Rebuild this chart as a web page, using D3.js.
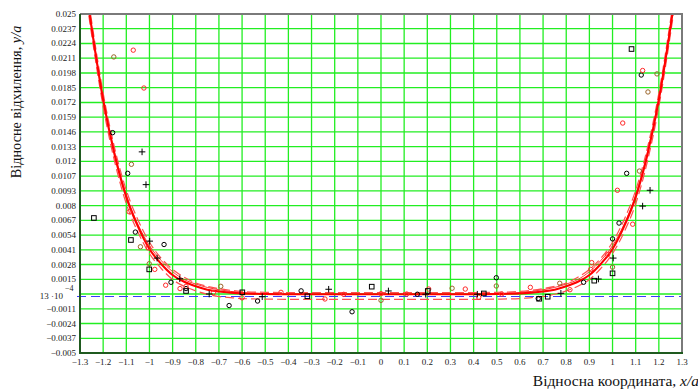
<!DOCTYPE html>
<html><head><meta charset="utf-8">
<script src="https://cdn.jsdelivr.net/npm/d3@7"></script>
<style>
html,body{margin:0;padding:0;background:#fff;}
svg{display:block;}
text{font-family:'Liberation Serif','DejaVu Serif','Times New Roman',serif;}
</style></head>
<body><svg id="c" width="698" height="389"></svg>
<script>
// ---- data ----
const xTickValues = [-1.3,-1.2,-1.1,-1,-0.9,-0.8,-0.7,-0.6,-0.5,-0.4,-0.3,-0.2,-0.1,0,0.1,0.2,0.3,0.4,0.5,0.6,0.7,0.8,0.9,1,1.1,1.2,1.3];
const xTickLabels = ["−1.3","−1.2","−1.1","−1","−0.9","−0.8","−0.7","−0.6","−0.5","−0.4","−0.3","−0.2","−0.1","0","0.1","0.2","0.3","0.4","0.5","0.6","0.7","0.8","0.9","1","1.1","1.2","1.3"];
const yTickValues = [-0.005,-0.0037,-0.00239,-0.00109,0.00022,0.00152,0.00283,0.00413,0.00543,0.00674,0.00804,0.00935,0.01065,0.01196,0.01326,0.01457,0.01587,0.01717,0.01848,0.01978,0.02109,0.02239,0.0237,0.025];
const yTickLabels = ["−0.005","−0.0037","−0.0024","−0.0011","","0.0015","0.0028","0.0041","0.0054","0.0067","0.008","0.0093","0.0107","0.012","0.0133","0.0146","0.0159","0.0172","0.0185","0.0198","0.0211","0.0224","0.0237","0.025"];
const markerValue = 0;

const curveX      = [-1.27,-1.25,-1.2,-1.15,-1.1,-1.05,-1.0,-0.95,-0.9,-0.85,-0.8,-0.75,-0.7,-0.65,-0.6,-0.5,-0.4,-0.2,0,0.2,0.4,0.5,0.6,0.65,0.7,0.75,0.8,0.85,0.9,0.95,1.0,1.05,1.1,1.15,1.2,1.25,1.27];
const fitMain     = [0.0266,0.0238,0.0174,0.0125,0.0088,0.0062,0.0042,0.0029,0.0019,0.0013,0.0009,0.0006,0.00044,0.00034,0.00027,0.00022,0.0002,0.0002,0.0002,0.0002,0.0002,0.00022,0.00027,0.00034,0.00044,0.0006,0.0009,0.0013,0.0019,0.0029,0.0042,0.0062,0.0088,0.0125,0.0174,0.0238,0.0266];
const fitAlt      = [0.0268,0.0240,0.0176,0.0127,0.0090,0.0064,0.0045,0.0032,0.0022,0.0015,0.0011,0.0008,0.0006,0.00045,0.00035,0.00026,0.00022,0.0002,0.0002,0.0002,0.00022,0.00026,0.00035,0.00045,0.0006,0.0008,0.0011,0.0015,0.0022,0.0032,0.0045,0.0064,0.0090,0.0127,0.0176,0.0240,0.0268];
const bandUpper   = [0.0272,0.0244,0.0180,0.0131,0.0094,0.0068,0.0048,0.0034,0.0024,0.0017,0.0012,0.0009,0.0007,0.00055,0.00045,0.00037,0.00035,0.00035,0.00035,0.00035,0.00035,0.00037,0.00045,0.00055,0.0007,0.0009,0.0012,0.0017,0.0024,0.0034,0.0048,0.0068,0.0094,0.0131,0.0180,0.0244,0.0272];
const bandLower   = [0.0260,0.0232,0.0168,0.0119,0.0082,0.0057,0.0038,0.0025,0.0015,0.0009,0.0005,0.0002,0.0,-0.0001,-0.00018,-0.00023,-0.00025,-0.00025,-0.00025,-0.00025,-0.00025,-0.00023,-0.00018,-0.0001,0.0,0.0002,0.0005,0.0009,0.0015,0.0025,0.0038,0.0057,0.0082,0.0119,0.0168,0.0232,0.0260];

const blackCircles = [[-1.159,0.0145],[-1.094,0.0109],[-1.061,0.0057],[-0.937,0.0046],[-0.907,0.00126],[-0.842,0.0007],[-0.656,-0.0008],[-0.533,-0.0004],[-0.345,0.0005],[-0.125,-0.00135],[0.157,0.0002],[0.498,0.00166],[0.679,-0.00018],[0.875,0.00126],[1.0,0.0051],[1.028,0.0065],[1.061,0.0109],[1.124,0.0196]];
const brownCircles = [[-1.154,0.0212],[-1.078,0.0117],[-1.039,0.0044],[-1.001,0.0029],[-0.692,0.0009],[0.0,-0.00034],[0.307,0.00073],[0.498,0.00093],[0.772,0.00117],[1.0,0.0026],[1.116,0.0111],[1.153,0.0181],[1.192,0.0197]];
const redCircles = [[-1.070,0.0218],[-1.024,0.01845],[-1.088,0.0075],[-1.005,0.0043],[-0.977,0.0024],[-0.930,0.0010],[-0.868,0.0007],[-0.842,0.0009],[-0.724,0.00034],[-0.600,-0.00012],[-0.432,0.00037],[-0.242,-0.00022],[-0.161,0.00019],[0.0,0.00025],[0.111,0.00022],[0.206,0.00066],[0.364,0.00066],[0.422,-0.00007],[0.521,0.00022],[0.645,0.00081],[0.816,0.0006],[0.906,0.0024],[0.910,0.0030],[0.979,0.0037],[1.021,0.0094],[1.044,0.01535],[1.087,0.0064],[1.130,0.0200]];
const squares = [[-1.24,0.00695],[-1.080,0.0050],[-1.001,0.0024],[-0.842,0.00049],[-0.599,0.00037],[-0.318,0.00002],[-0.040,0.00087],[0.202,0.00049],[0.444,0.00027],[0.683,-0.0002],[0.720,-0.00002],[0.921,0.0014],[1.0,0.00205],[1.082,0.0219]];
const pluses = [[-1.032,0.0128],[-1.015,0.0099],[-0.999,0.0049],[-0.967,0.0034],[-0.869,0.00157],[-0.742,0.00022],[-0.513,-0.00002],[-0.226,0.00064],[0.032,0.00049],[0.193,0.0002],[0.416,0.0002],[0.777,0.00028],[0.939,0.00155],[1.003,0.0034],[1.130,0.0080],[1.162,0.0094]];

// ---- layout ----
const FONT = "'Liberation Serif','DejaVu Serif','Times New Roman',serif";
const svg = d3.select("#c");
const L = 80, T = 14, R = 682, B = 353;
const x = d3.scaleLinear().domain([-1.3,1.3]).range([L,R]);
const y = d3.scaleLinear().domain([-0.005,0.025]).range([B,T]);

svg.append("defs").append("clipPath").attr("id","clip")
  .append("rect").attr("x",L).attr("y",T).attr("width",R-L).attr("height",B-T);

// grid
const g = svg.append("g");
g.selectAll("line.v").data(xTickValues).join("line")
  .attr("x1",d=>x(d)).attr("x2",d=>x(d)).attr("y1",T).attr("y2",B)
  .attr("stroke","#22ee22").attr("stroke-width",1.3);
g.selectAll("line.h").data(yTickValues).join("line")
  .attr("x1",L).attr("x2",R).attr("y1",d=>y(d)).attr("y2",d=>y(d))
  .attr("stroke","#22ee22").attr("stroke-width",1.3);

// marker line
svg.append("line").attr("x1",L-3).attr("x2",R).attr("y1",y(markerValue)).attr("y2",y(markerValue))
  .attr("stroke","#3a3aff").attr("stroke-width",1.1).attr("stroke-dasharray","9,5");

const plot = svg.append("g").attr("clip-path","url(#clip)");
const line = arr => d3.line().x((d,i)=>x(curveX[i])).y(d=>y(d)).curve(d3.curveMonotoneX)(arr);

plot.append("path").attr("d",line(bandUpper)).attr("fill","none")
  .attr("stroke","#ff5050").attr("stroke-width",1.2).attr("stroke-dasharray","9,4");
plot.append("path").attr("d",line(bandLower)).attr("fill","none")
  .attr("stroke","#ff5050").attr("stroke-width",1.2).attr("stroke-dasharray","9,4");
plot.append("path").attr("d",line(fitAlt)).attr("fill","none")
  .attr("stroke","#ff2020").attr("stroke-width",0.9);
plot.append("path").attr("d",line(fitMain)).attr("fill","none")
  .attr("stroke","#ff0000").attr("stroke-width",2.1);

// markers
const m = svg.append("g");
m.selectAll("circle.bc").data(blackCircles).join("circle")
  .attr("cx",d=>x(d[0])).attr("cy",d=>y(d[1])).attr("r",2.2)
  .attr("fill","none").attr("stroke","#000").attr("stroke-width",1);
m.selectAll("circle.br").data(brownCircles).join("circle")
  .attr("cx",d=>x(d[0])).attr("cy",d=>y(d[1])).attr("r",2.2)
  .attr("fill","none").attr("stroke","#9a6428").attr("stroke-width",1);
m.selectAll("circle.rc").data(redCircles).join("circle")
  .attr("cx",d=>x(d[0])).attr("cy",d=>y(d[1])).attr("r",2.2)
  .attr("fill","none").attr("stroke","#ff2a2a").attr("stroke-width",1);
m.selectAll("rect.sq").data(squares).join("rect")
  .attr("x",d=>x(d[0])-2.3).attr("y",d=>y(d[1])-2.3).attr("width",4.6).attr("height",4.6)
  .attr("fill","none").attr("stroke","#000").attr("stroke-width",1);
m.selectAll("path.pl").data(pluses).join("path")
  .attr("d",d=>{const cx=x(d[0]),cy=y(d[1]);return `M${cx-3.3},${cy}H${cx+3.3}M${cx},${cy-3.3}V${cy+3.3}`;})
  .attr("stroke","#000").attr("stroke-width",1);

// frame
svg.append("path").attr("d",`M${L},${T}H${R}V${B}`).attr("fill","none").attr("stroke","#7a7a7a").attr("stroke-width",2);
svg.append("path").attr("d",`M${L},${T}V${B}H${R+1}`).attr("fill","none").attr("stroke","#1f5a1f").attr("stroke-width",2);

// tick labels
svg.selectAll("text.xt").data(xTickValues).join("text")
  .attr("font-family",FONT)
  .attr("x",d=>x(d)).attr("y",B+12).attr("text-anchor","middle")
  .attr("font-size",9).attr("fill","#222").text((d,i)=>xTickLabels[i]);
svg.selectAll("text.yt").data(yTickValues).join("text")
  .attr("font-family",FONT)
  .attr("x",L-4).attr("y",d=>y(d)+3).attr("text-anchor","end")
  .attr("font-size",9).attr("fill","#222").text((d,i)=>yTickLabels[i]);

// marker label 13·10^-4
svg.append("text").attr("font-family",FONT).attr("x",L-17).attr("y",y(markerValue)+2).attr("text-anchor","end")
  .attr("font-size",9).attr("fill","#222").text("13 ·10");
svg.append("text").attr("font-family",FONT).attr("x",L-15).attr("y",y(markerValue)-6).attr("text-anchor","start")
  .attr("font-size",8).attr("fill","#222").text("−4");

// axis titles
const xt = svg.append("text").attr("font-family",FONT).attr("x",699).attr("y",386).attr("text-anchor","end")
  .attr("font-size",15.5).attr("fill","#111");
xt.append("tspan").text("Відносна координата, ");
xt.append("tspan").attr("font-style","italic").text("x/a");

const yt = svg.append("text").attr("font-family",FONT).attr("transform","translate(21,102) rotate(-90)")
  .attr("text-anchor","middle").attr("font-size",14.3).attr("fill","#111");
yt.append("tspan").text("Відносне відхилення, ");
yt.append("tspan").attr("font-style","italic").text("y/a");
</script></body></html>
